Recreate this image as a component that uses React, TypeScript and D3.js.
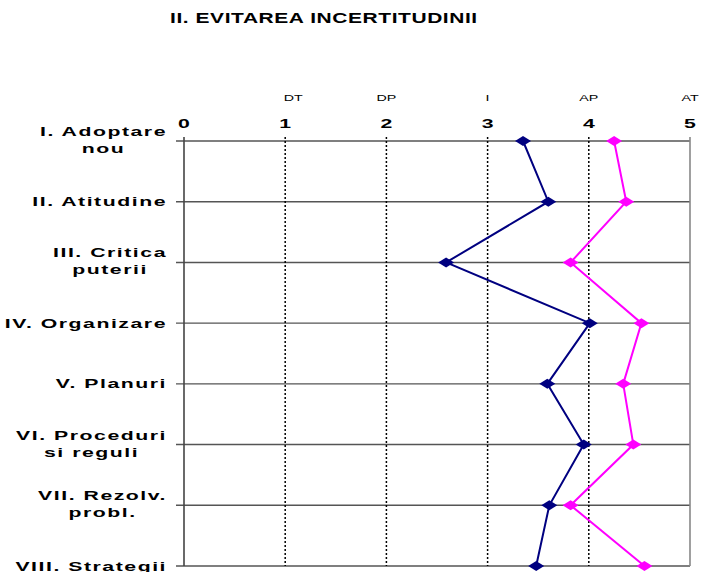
import * as d3 from 'd3';
import React, { useRef, useEffect } from 'react';

// rows, top to bottom; "|" breaks a label in two lines
const categories = [
  "I. Adoptare|nou",
  "II. Atitudine",
  "III. Critica|puterii",
  "IV. Organizare",
  "V. Planuri",
  "VI. Proceduri|si reguli",
  "VII. Rezolv.|probl.",
  "VIII. Strategii",
];
const seriesNavy = [3.35, 3.6, 2.59, 4.01, 3.59, 3.95, 3.61, 3.48];
const seriesMagenta = [4.25, 4.37, 3.82, 4.52, 4.34, 4.44, 3.82, 4.55];
const tickValues = [0, 1, 2, 3, 4, 5];
const scaleLabels = ["DT", "DP", "I", "AP", "AT"];
const scaleLabelValues = [1, 2, 3, 4, 5];

function Chart(props: any): any {
  const ref = useRef(null);
  const width = 701;
  const height = 572;
  const margin = { top: 141, right: 11, bottom: 6, left: 184 };
  const font = "'Liberation Sans', Arial, sans-serif";
  const sx = 1.7;

  useEffect(() => {
    const svg = d3.select(ref.current);
    svg.selectAll("*").remove();

    const xScale = d3.scaleLinear()
      .domain([0, 5])
      .range([margin.left, width - margin.right]);

    const yScale = d3.scalePoint()
      .domain(categories)
      .range([margin.top, height - margin.bottom]);

    const y0 = margin.top;
    const y1 = height - margin.bottom;

    // title
    svg.append("text")
      .attr("transform", "translate(170,23) scale(1.4,1)")
      .attr("font-family", font)
      .attr("font-weight", "bold")
      .attr("font-size", 15)
      .attr("letter-spacing", 0.4)
      .text("II. EVITAREA INCERTITUDINII");

    const grid = svg.append("g");

    // horizontal row lines (with small outward tick on the left)
    grid.selectAll(".row")
      .data(categories)
      .enter()
      .append("line")
      .attr("x1", margin.left - 8)
      .attr("x2", xScale(5))
      .attr("y1", (d: any) => yScale(d))
      .attr("y2", (d: any) => yScale(d))
      .attr("stroke", "#555")
      .attr("stroke-width", 1.4);

    // dotted verticals
    grid.selectAll(".vdot")
      .data([1, 2, 3, 4])
      .enter()
      .append("line")
      .attr("x1", (d: any) => xScale(d))
      .attr("x2", (d: any) => xScale(d))
      .attr("y1", y0 - 4)
      .attr("y2", y1)
      .attr("stroke", "#000")
      .attr("stroke-width", 1.5)
      .attr("stroke-dasharray", "2,2");

    // left axis and right border
    grid.append("line")
      .attr("x1", xScale(0)).attr("x2", xScale(0))
      .attr("y1", y0 - 4).attr("y2", y1)
      .attr("stroke", "#444").attr("stroke-width", 1.6);
    grid.append("line")
      .attr("x1", xScale(5)).attr("x2", xScale(5))
      .attr("y1", y0 - 4).attr("y2", y1)
      .attr("stroke", "#888").attr("stroke-width", 1.6);

    // numeric tick labels
    svg.selectAll(".num")
      .data(tickValues)
      .enter()
      .append("text")
      .attr("transform", (d: any) => "translate(" + xScale(d) + ",128) scale(" + sx + ",1)")
      .attr("text-anchor", "middle")
      .attr("font-family", font)
      .attr("font-weight", "bold")
      .attr("font-size", 12.5)
      .text((d: any) => String(d));

    // scale word labels
    svg.selectAll(".word")
      .data(scaleLabels)
      .enter()
      .append("text")
      .attr("transform", (d: any, i: number) =>
        "translate(" + (xScale(scaleLabelValues[i]) + (i === 0 ? 8 : 0)) + ",101) scale(1.5,1)")
      .attr("text-anchor", "middle")
      .attr("font-family", font)
      .attr("font-size", 9.5)
      .text((d: any) => d);

    // category labels, right aligned block, lines centered on each other
    categories.forEach((c) => {
      const lines = c.split("|");
      const y = yScale(c) || 0;
      const g = svg.append("g")
        .attr("transform", "translate(167," + y + ") scale(" + sx + ",1)");
      const texts = g.selectAll("text")
        .data(lines)
        .enter()
        .append("text")
        .attr("text-anchor", "middle")
        .attr("font-family", font)
        .attr("font-weight", "bold")
        .attr("font-size", 12.5)
        .attr("letter-spacing", 0.9)
        .attr("y", (d: any, i: number) => lines.length === 1 ? 4.5 : (i === 0 ? -5 : 12))
        .text((d: any) => d);
      let maxW = 0;
      texts.each(function (this: any) {
        maxW = Math.max(maxW, this.getComputedTextLength());
      });
      texts.attr("x", -maxW / 2);
    });

    const diamond = "M0,-5L8,0L0,5L-8,0Z";

    const drawSeries = (values: number[], color: string) => {
      const line = d3.line<number>()
        .x((d) => xScale(d))
        .y((d, i) => yScale(categories[i]) || 0);
      svg.append("path")
        .datum(values)
        .attr("d", line)
        .attr("fill", "none")
        .attr("stroke", color)
        .attr("stroke-width", 2);
      svg.selectAll(".m-" + color.slice(1))
        .data(values)
        .enter()
        .append("path")
        .attr("d", diamond)
        .attr("transform", (d: any, i: number) =>
          "translate(" + xScale(d) + "," + yScale(categories[i]) + ")")
        .attr("fill", color);
    };

    drawSeries(seriesNavy, "#000080");
    drawSeries(seriesMagenta, "#ff00ff");
  }, []);

  return (
    <svg
      ref={ref}
      width={width}
      height={height}
      style={{ position: "absolute", left: 0, top: 0, background: "#fff" }}
    />
  );
}

export default function App(): any {
  return <Chart />;
}
